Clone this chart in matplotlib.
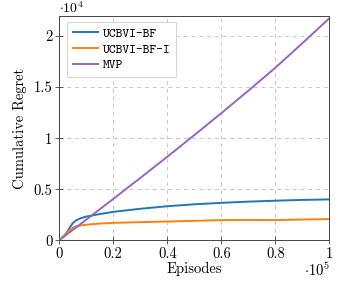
import matplotlib
matplotlib.use('Agg')
from matplotlib import pyplot as plt

# episodes (x 1e5) and cumulative regret (x 1e4)
episodes = [0.0, 0.01, 0.02, 0.03, 0.04, 0.05, 0.06, 0.07, 0.08, 0.1, 0.15, 0.2,
            0.3, 0.4, 0.5, 0.6, 0.7, 0.8, 0.9, 1.0]
ucbvi_bf = [0.0, 0.025, 0.05, 0.085, 0.13, 0.167, 0.19, 0.205, 0.216, 0.232, 0.256, 0.278,
            0.308, 0.333, 0.352, 0.366, 0.378, 0.387, 0.395, 0.4]
ucbvi_bf_i = [0.0, 0.025, 0.05, 0.078, 0.102, 0.122, 0.134, 0.14, 0.145, 0.152, 0.163, 0.17,
              0.177, 0.183, 0.19, 0.197, 0.198, 0.197, 0.203, 0.207]
mvp_x = [0.0, 0.1, 0.2, 0.3, 0.4, 0.5, 0.6, 0.7, 0.8, 0.9, 1.0]
mvp = [0.0, 0.202, 0.405, 0.61, 0.818, 1.03, 1.245, 1.465, 1.69, 1.93, 2.175]

x_ticks = [0, 0.2, 0.4, 0.6, 0.8, 1]
x_tick_labels = ['0', '0.2', '0.4', '0.6', '0.8', '1']
y_ticks = [0, 0.5, 1, 1.5, 2]
y_tick_labels = ['0', '0.5', '1', '1.5', '2']

plt.rcParams['font.family'] = 'cmr10'
plt.rcParams['mathtext.fontset'] = 'cm'
plt.rcParams['axes.unicode_minus'] = False

fs = 10.5

fig = plt.figure(figsize=(3.42, 2.83), dpi=100)
ax = fig.add_axes([0.1734, 0.1512, 0.963 - 0.1734, 0.9445 - 0.1512])

ax.plot(episodes, ucbvi_bf, color='#1f77b4', lw=1.4, label='UCBVI-BF', zorder=3)
ax.plot(episodes, ucbvi_bf_i, color='#ff7f0e', lw=1.4, label='UCBVI-BF-I', zorder=3)
ax.plot(mvp_x, mvp, color='#9467bd', lw=1.4, label='MVP', zorder=3)

ax.set_xlim(0, 1)
ax.set_ylim(0, 2.2)
ax.set_xticks(x_ticks)
ax.set_xticklabels(x_tick_labels)
ax.set_yticks(y_ticks)
ax.set_yticklabels(y_tick_labels)
ax.tick_params(direction='inout', length=6, width=0.6, color='#444444',
               labelsize=fs, pad=2)

ax.grid(True, color='#c8c8c8', lw=0.7, linestyle=(0, (4, 4)))
ax.set_axisbelow(True)
for s in ax.spines.values():
    s.set_color('#444444')
    s.set_linewidth(0.7)

ax.set_xlabel('Episodes', fontsize=fs, labelpad=1)
ax.set_ylabel('Cumulative Regret', fontsize=fs, labelpad=5)

# pgfplots-style scale markers
fig.text(0.1734, 0.998, r'$\cdot 10^4$', fontsize=10, ha='left', va='top')
ax.text(1.0, -0.095, r'$\cdot 10^5$', transform=ax.transAxes, fontsize=fs,
        ha='right', va='top')

leg = ax.legend(loc='upper left', prop={'family': 'cmtt10', 'size': 9.3},
                fancybox=False, edgecolor='#cccccc', framealpha=1,
                handlelength=1.9, handletextpad=0.4, borderpad=0.45,
                labelspacing=0.3, bbox_to_anchor=(0.03, 0.973),
                borderaxespad=0)
leg.get_frame().set_linewidth(0.6)

fig.savefig('out.png', dpi=100)
